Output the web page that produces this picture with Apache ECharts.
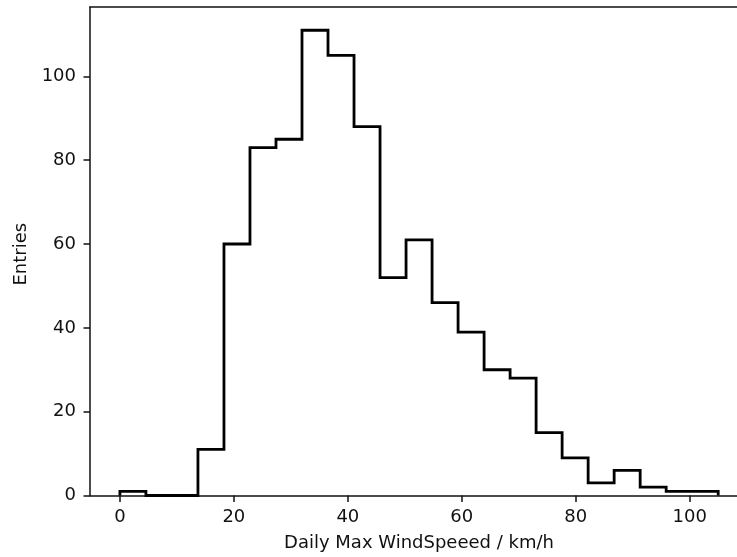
<!DOCTYPE html>
<html>
<head>
<meta charset="utf-8">
<script src="https://cdn.jsdelivr.net/npm/echarts@6/dist/echarts.min.js"></script>
<style>
html,body{margin:0;padding:0;background:#fff;overflow:hidden;}
#chart{width:737px;height:557px;}
</style>
</head>
<body>
<div id="chart"></div>
<script>
// Histogram of daily max wind speed (23 bins from 0 to 105 km/h)
const binStart = 0;
const binEnd = 105;
const counts = [1, 0, 0, 11, 60, 83, 85, 111, 105, 88, 52, 61, 46, 39, 30, 28, 15, 9, 3, 6, 2, 1, 1];
const xTicks = [0, 20, 40, 60, 80, 100];
const yTicks = [0, 20, 40, 60, 80, 100];
const xLabel = 'Daily Max WindSpeeed / km/h';
const yLabel = 'Entries';
// visible x window (the reference image is cropped at its right edge)
const xViewMin = -5.25;
const xViewMax = 108.3;

const nBins = counts.length;
const width = (binEnd - binStart) / nBins;
const edges = [];
for (let i = 0; i <= nBins; i++) edges.push(binStart + i * width);

// step outline points (data coordinates)
const pts = [[edges[0], 0]];
for (let i = 0; i < nBins; i++) {
  pts.push([edges[i], counts[i]]);
  pts.push([edges[i + 1], counts[i]]);
}
pts.push([edges[nBins], 0]);

const yMax = Math.max(...counts) * 1.05;

const font = 'DejaVu Sans';
const fs = 18;
const ink = '#111';
const chart = echarts.init(document.getElementById('chart'), null, {renderer: 'canvas'});
chart.setOption({
  animation: false,
  backgroundColor: '#fff',
  grid: {left: 90, top: 7, width: 647, height: 491, show: false},
  xAxis: [{
    type: 'value',
    min: xViewMin,
    max: xViewMax,
    splitLine: {show: false},
    axisLine: {show: true, onZero: false, lineStyle: {color: ink, width: 1.5}},
    axisTick: {show: true, inside: false, length: 6.5, customValues: xTicks, lineStyle: {color: ink, width: 1.5}},
    axisLabel: {customValues: xTicks, margin: 13, color: ink, fontFamily: font, fontSize: fs},
    name: xLabel,
    nameLocation: 'middle',
    nameGap: 38.5,
    nameTextStyle: {color: ink, fontFamily: font, fontSize: fs, padding: [0, 0, 0, 11]}
  }, {
    type: 'value',
    position: 'top',
    min: xViewMin,
    max: xViewMax,
    splitLine: {show: false},
    axisLine: {show: true, onZero: false, lineStyle: {color: ink, width: 1.5}},
    axisTick: {show: false},
    axisLabel: {show: false}
  }],
  yAxis: {
    type: 'value',
    min: 0,
    max: yMax,
    splitLine: {show: false},
    axisLine: {show: true, onZero: false, lineStyle: {color: ink, width: 1.5}},
    axisTick: {show: true, inside: false, length: 6.5, customValues: yTicks, lineStyle: {color: ink, width: 1.5}},
    axisLabel: {customValues: yTicks, margin: 14, color: ink, fontFamily: font, fontSize: fs},
    name: yLabel,
    nameLocation: 'middle',
    nameGap: 55,
    nameRotate: 90,
    nameTextStyle: {color: ink, fontFamily: font, fontSize: fs, padding: [0, 6, 0, 0]}
  },
  series: [{
    type: 'line',
    xAxisIndex: 0,
    data: pts,
    showSymbol: false,
    symbol: 'none',
    clip: false,
    lineStyle: {color: '#000', width: 2.8, join: 'miter'},
    z: 5
  }]
});
</script>
</body>
</html>
